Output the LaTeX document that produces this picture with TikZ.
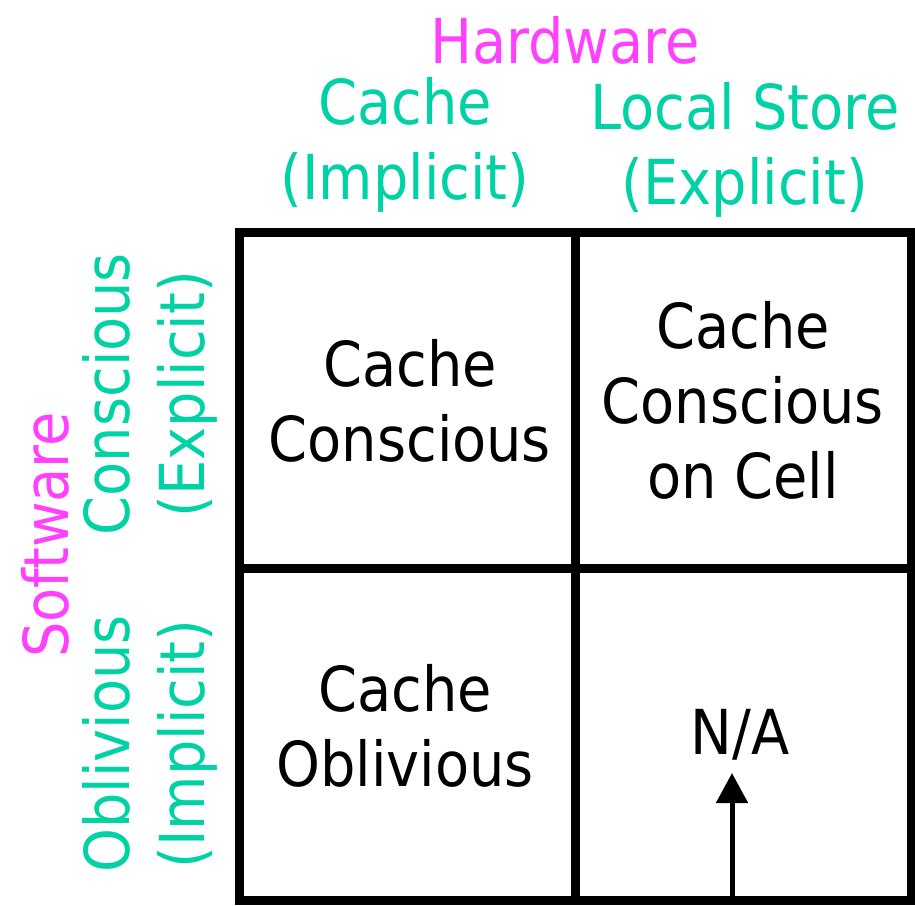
\documentclass[tikz,border=0pt]{standalone}
\usepackage{fontspec}
\setmainfont{DejaVu Sans Condensed}
\usetikzlibrary{arrows.meta}
\definecolor{hw}{HTML}{FF40FF}
\definecolor{kind}{HTML}{00D2A5}
\tikzset{
  bigfont/.style={font=\fontsize{62}{75}\selectfont},
  cell/.style={draw=black, line width=9pt, rectangle, minimum width=336pt, inner sep=0pt, align=center, bigfont},
  big/.style={bigfont, align=center, inner sep=0pt},
  axis/.style={big, text=hw},
  sub/.style={big, text=kind},
  pointer/.style={line width=5pt, -{Triangle[width=31pt,length=30pt]}}
}
\begin{document}
\begin{tikzpicture}[x=1pt,y=-1pt]
  \useasboundingbox (0,0) rectangle (915,905);
  % the 2x2 grid
  \node[cell, minimum height=336pt] (c11) at (407,400) {};
  \node[cell, minimum height=336pt] (c12) at (743,400) {};
  \node[cell, minimum height=332pt] (c21) at (407,734) {};
  \node[cell, minimum height=332pt] (c22) at (743,734) {};
  % cell contents
  \node[big] (t11) at (410,401) {Cache\\Conscious};
  \node[big] (t12) at (743,400) {Cache\\Conscious\\on Cell};
  \node[big] (t21) at (405,726) {Cache\\Oblivious};
  \node[big] (na) at (740,735) {N/A};
  \draw[pointer] (c22.south -| 732,0) -- (732,773) coordinate (tip);
  % column headings
  \node[axis] (hardware) at (565,40) {Hardware};
  \node[sub] (cache) at (405,145) {Cache\\(Implicit)};
  \node[sub] (local) at (745,150) {Local Store\\(Explicit)};
  % row headings
  \node[axis, rotate=90] (software) at (45,535) {Software};
  \node[sub, rotate=90] (conscious) at (150,394) {Conscious\\(Explicit)};
  \node[sub, rotate=90] (oblivious) at (150,744) {Oblivious\\(Implicit)};
\end{tikzpicture}
\end{document}
